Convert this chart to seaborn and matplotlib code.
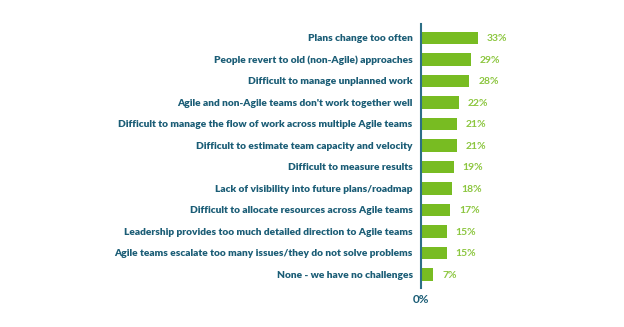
import matplotlib
matplotlib.use("Agg")
import matplotlib.pyplot as plt
import seaborn as sns
import pandas as pd

categories = [
    "Plans change too often",
    "People revert to old (non-Agile) approaches",
    "Difficult to manage unplanned work",
    "Agile and non-Agile teams don't work together well",
    "Difficult to manage the flow of work across multiple Agile teams",
    "Difficult to estimate team capacity and velocity",
    "Difficult to measure results",
    "Lack of visibility into future plans/roadmap",
    "Difficult to allocate resources across Agile teams",
    "Leadership provides too much detailed direction to Agile teams",
    "Agile teams escalate too many issues/they do not solve problems",
    "None - we have no challenges",
]
values = [33, 29, 28, 22, 21, 21, 19, 18, 17, 15, 15, 7]
tick_labels = ["0%"]

sns.set_theme(style="white")
plt.rcParams["font.family"] = ["Lato", "DejaVu Sans"]

W, H = 624, 327
fig = plt.figure(figsize=(W / 100, H / 100), dpi=100)
ax_left, ax_top, ax_bottom = 421, 24, 288
xmax = 40
px_per_unit = 1.72
ax = fig.add_axes([ax_left / W, 1 - ax_bottom / H, xmax * px_per_unit / W, (ax_bottom - ax_top) / H])

df = pd.DataFrame({"cat": categories, "val": values})
bar_color = "#78bc22"
text_color = "#1b5d76"
label_color = "#8cc63f"

sns.barplot(data=df, x="val", y="cat", orient="h", color=bar_color, width=0.57,
            saturation=1, ax=ax, edgecolor="none")

ax.set_xlim(0, xmax)
ax.set_ylim(11.63, -0.65)
ax.set_xlabel("")
ax.set_ylabel("")
ax.set_xticks([0])
ax.set_xticklabels(tick_labels, color=text_color, fontsize=8.5, fontweight="bold")
ax.tick_params(axis="x", length=0, pad=4)
ax.tick_params(axis="y", length=0, pad=6, labelsize=7.3, labelcolor=text_color)
for lbl in ax.get_yticklabels():
    lbl.set_fontweight("heavy")

for s in ["top", "right", "bottom"]:
    ax.spines[s].set_visible(False)
ax.spines["left"].set_color("#2d6f86")
ax.spines["left"].set_linewidth(1.5)

for i, v in enumerate(values):
    ax.text(v + 9 / px_per_unit, i, f"{v}%", va="center_baseline", ha="left",
            color=label_color, fontsize=7.5, fontweight="bold", clip_on=False)

fig.savefig("out.png", dpi=100)
